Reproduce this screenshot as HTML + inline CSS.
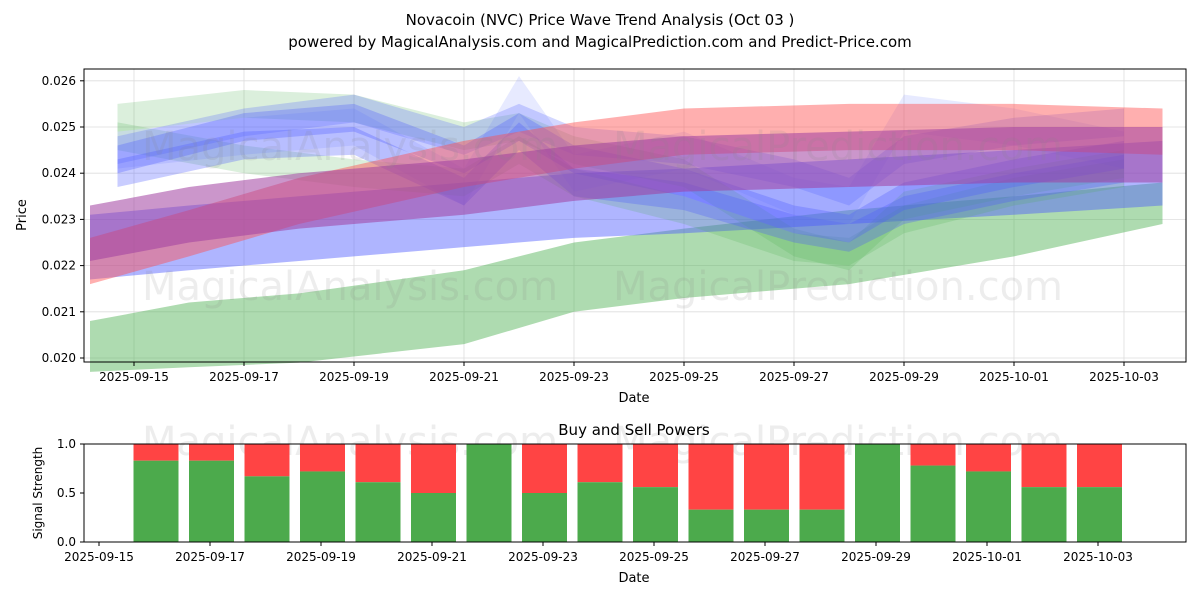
<!DOCTYPE html>
<html><head><meta charset="utf-8"><style>
body{margin:0;background:#fff;font-family:"Liberation Sans","DejaVu Sans",sans-serif}
svg text{font-family:"DejaVu Sans","Liberation Sans",sans-serif}
</style></head><body>
<svg id="c" width="1200" height="600" xmlns="http://www.w3.org/2000/svg"></svg>
<script>
// ---- data ----
const yTicks=[0.020,0.021,0.022,0.023,0.024,0.025,0.026];
const xTickLabels=["2025-09-15","2025-09-17","2025-09-19","2025-09-21","2025-09-23","2025-09-25","2025-09-27","2025-09-29","2025-10-01","2025-10-03"];
const waveDays=[-0.3,2,4,6,7,8,10,12,13,14,16,18];
const waveBlue1=[0.0243,0.0250,0.0252,0.0243,0.0250,0.0243,0.0238,0.0230,0.0228,0.0235,0.0240,0.0244];
const waveBlue2=[0.0240,0.0246,0.0247,0.0236,0.0248,0.0238,0.0235,0.0228,0.0226,0.0232,0.0237,0.0241];
const wavePurple=[0.0245,0.0251,0.0254,0.0247,0.0252,0.0247,0.0245,0.0240,0.0236,0.0245,0.0249,0.0251];
const waveGreen1=[0.0252,0.0255,0.0254,0.0248,0.0250,0.0245,0.0240,0.0225,0.0222,0.0233,0.0238,0.0242];
const waveGreen2=[0.0248,0.0243,0.0240,0.0238,0.0245,0.0238,0.0232,0.0224,0.0223,0.0230,0.0236,0.0240];
const waveBlueSpike=[0.0245,0.0248,0.0250,0.0237,0.0257,0.0240,0.0245,0.0235,0.0233,0.0253,0.0250,0.0245];
const trendDays=[-0.8,1,3,6,8,10,13,16,18.7];
const greenLowTop=[0.0208,0.0212,0.0214,0.0219,0.0225,0.0228,0.0232,0.0235,0.0238];
const greenLowBot=[0.0197,0.0198,0.0199,0.0203,0.0210,0.0213,0.0216,0.0222,0.0229];
const redCenter=[0.0221,0.0227,0.0234,0.0242,0.0246,0.0249,0.0250,0.0250,0.0249];
const purpleCenter=[0.0227,0.0231,0.0234,0.0237,0.0240,0.0242,0.0243,0.0244,0.0244];
const blueLowCenter=[0.0224,0.0226,0.0228,0.0231,0.0233,0.0234,0.0236,0.0238,0.0240];
const barDays=[1,2,3,4,5,6,7,8,9,10,11,12,13,14,15,16,17,18];
const buyVals=[0.83,0.83,0.67,0.72,0.61,0.5,1.0,0.5,0.61,0.56,0.33,0.33,0.33,1.0,0.78,0.72,0.56,0.56];
const sigTicks=[0.0,0.5,1.0];

const NS="http://www.w3.org/2000/svg",svg=document.getElementById('c');
function el(t,a,p){const e=document.createElementNS(NS,t);for(const k in a)e.setAttribute(k,a[k]);(p||svg).appendChild(e);return e;}
function txt(x,y,s,a,p){const e=el('text',Object.assign({x:x,y:y,'font-size':13,fill:'#000'},a),p);e.textContent=s;return e;}
const X=d=>134+55*d, Y=v=>358-(v-0.020)*46200;
const X2=d=>99+55.5*d, Y2=v=>542-v*98;

txt(600,25,"Novacoin (NVC) Price Wave Trend Analysis (Oct 03 )",{'text-anchor':'middle','font-size':15,});
txt(600,47,"powered by MagicalAnalysis.com and MagicalPrediction.com and Predict-Price.com",{'text-anchor':'middle','font-size':15,});

const g1=el('g',{});
yTicks.forEach(v=>{el('line',{x1:84,x2:1186,y1:Y(v),y2:Y(v),stroke:'#ddd','stroke-width':0.8},g1);});
xTickLabels.forEach((s,i)=>{el('line',{x1:X(i*2),x2:X(i*2),y1:69,y2:362,stroke:'#ddd','stroke-width':0.8},g1);});

const bands=el('g',{});
function bandTB(days,top,bot,color,op,name){
  let pts=days.map((d,i)=>X(d)+','+Y(top[i]));
  for(let i=days.length-1;i>=0;i--)pts.push(X(days[i])+','+Y(bot[i]));
  const p=el('polygon',{points:pts.join(' '),fill:color,'fill-opacity':op},bands);
  
}
function bandC(days,c,h,color,op,name){bandTB(days,c.map(v=>v+h),c.map(v=>v-h),color,op,name);}
bandTB(trendDays,greenLowTop,greenLowBot,'#4caf50',0.45,'green-low-band');
bandC(trendDays,blueLowCenter,0.0007,'#4d5bff',0.45,'blue-low-band');
bandC(waveDays,waveGreen1,0.0003,'#4caf50',0.2,'green-wave-1');
bandC(waveDays,waveGreen2,0.0003,'#4caf50',0.2,'green-wave-2');
bandC(waveDays,waveBlueSpike,0.0004,'#6070ff',0.15,'blue-spike-wave');
bandC(waveDays,waveBlue1,0.0003,'#4d5bff',0.3,'blue-wave-1');
bandC(waveDays,waveBlue2,0.0003,'#4d5bff',0.3,'blue-wave-2');
bandC(waveDays,wavePurple,0.0003,'#5060ff',0.25,'purple-wave');
bandC(trendDays,redCenter,0.0005,'#ff4d4d',0.45,'red-trend-band');
bandC(trendDays,purpleCenter,0.0006,'#a040a0',0.55,'purple-trend-band');

[[350,300,'MagicalAnalysis.com'],[838,300,'MagicalPrediction.com'],[350,160,'MagicalAnalysis.com'],[838,160,'MagicalPrediction.com'],[350,455,'MagicalAnalysis.com'],[838,455,'MagicalPrediction.com']].forEach(w=>{
 txt(w[0],w[1],w[2],{'text-anchor':'middle','font-size':40,fill:'#888','fill-opacity':0.15,});});

el('rect',{x:84,y:69,width:1102,height:293,fill:'none',stroke:'#000','stroke-width':1,});
yTicks.forEach(v=>{el('line',{x1:80,x2:84,y1:Y(v),y2:Y(v),stroke:'#000'});txt(76,Y(v)+4,v.toFixed(3),{'text-anchor':'end','font-size':12,});});
xTickLabels.forEach((s,i)=>{el('line',{x1:X(i*2),x2:X(i*2),y1:362,y2:366,stroke:'#000'});txt(X(i*2),381,s,{'text-anchor':'middle','font-size':12,});});
txt(634,402,"Date",{'text-anchor':'middle',});
txt(26,215,"Price",{'text-anchor':'middle',transform:'rotate(-90 26 215)',});

txt(634,435,"Buy and Sell Powers",{'text-anchor':'middle','font-size':15,});
const g2=el('g',{});
barDays.forEach((d,i)=>{
 const x=X2(d)-21;
 const r=el('rect',{x:x,y:Y2(1),width:45,height:Y2(buyVals[i])-Y2(1),fill:'#ff4444'},g2);
 
 const b=el('rect',{x:x,y:Y2(buyVals[i]),width:45,height:Y2(0)-Y2(buyVals[i]),fill:'#4caa4c'},g2);
 
});
el('rect',{x:84,y:444,width:1102,height:98,fill:'none',stroke:'#000',});
sigTicks.forEach(v=>{el('line',{x1:80,x2:84,y1:Y2(v),y2:Y2(v),stroke:'#000'});txt(76,Y2(v)+4,v.toFixed(1),{'text-anchor':'end','font-size':12,});});
xTickLabels.forEach((s,i)=>{el('line',{x1:X2(i*2),x2:X2(i*2),y1:542,y2:546,stroke:'#000'});txt(X2(i*2),561,s,{'text-anchor':'middle','font-size':12,});});
txt(634,582,"Date",{'text-anchor':'middle',});
txt(42,493,"Signal Strength",{'text-anchor':'middle','font-size':12,transform:'rotate(-90 42 493)',});
</script>
</body></html>
